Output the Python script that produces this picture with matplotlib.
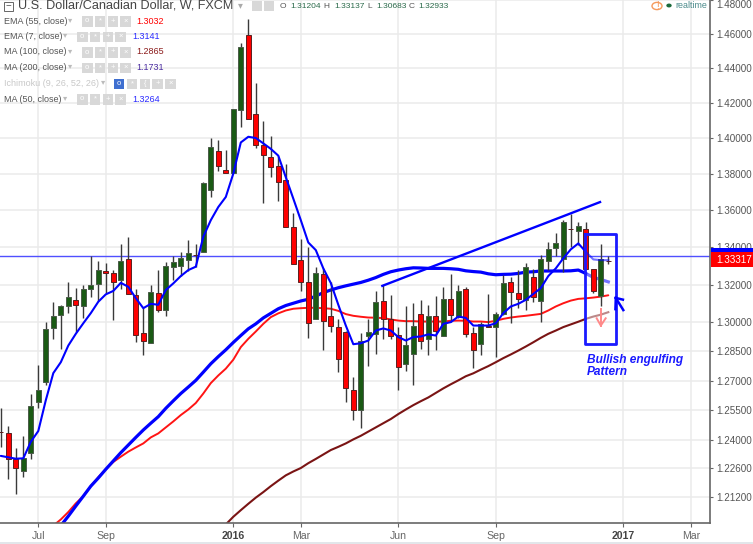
import numpy as np
from matplotlib import pyplot as plt
from matplotlib.patches import Rectangle, Circle
from matplotlib.ticker import NullLocator

plt.rcParams['font.family'] = ['Liberation Sans', 'DejaVu Sans']

# weekly candles, one row per week
opens = [1.2440, 1.2433, 1.2308, 1.2248, 1.2333, 1.2592, 1.2693, 1.2970, 1.3039, 1.3086, 1.3119, 1.3089,
         1.3176, 1.3204, 1.3270, 1.3261, 1.3223, 1.3334, 1.3145, 1.2946, 1.2894, 1.3154, 1.3068, 1.3295,
         1.3300, 1.3332, 1.3357, 1.3375, 1.3709, 1.3926, 1.3823, 1.3808, 1.4157, 1.4596, 1.4137, 1.3960,
         1.3893, 1.3847, 1.3764, 1.3510, 1.3329, 1.3216, 1.3016, 1.3254, 1.3034, 1.2978, 1.2950, 1.2651,
         1.2549, 1.2929, 1.2939, 1.3112, 1.3017, 1.2934, 1.2786, 1.2835, 1.3044, 1.2912, 1.3036, 1.2929,
         1.3122, 1.3028, 1.3176, 1.2944, 1.2887, 1.2984, 1.2976, 1.3046, 1.3214, 1.3154, 1.3119, 1.3238,
         1.3115, 1.3325, 1.3396, 1.3334, 1.3497, 1.3488, 1.3496, 1.3281, 1.3140, 1.3327]
highs = [1.2560, 1.2470, 1.2358, 1.2421, 1.2634, 1.2778, 1.3002, 1.3105, 1.3093, 1.3214, 1.3183, 1.3197,
         1.3353, 1.3327, 1.3313, 1.3277, 1.3418, 1.3455, 1.3174, 1.3075, 1.3197, 1.3277, 1.3318, 1.3352,
         1.3372, 1.3438, 1.3416, 1.3753, 1.4001, 1.3990, 1.3934, 1.4168, 1.4549, 1.4687, 1.4316, 1.4095,
         1.4010, 1.3902, 1.3856, 1.3585, 1.3443, 1.3402, 1.3295, 1.3288, 1.3214, 1.3016, 1.2953, 1.2718,
         1.2946, 1.3019, 1.3166, 1.3197, 1.3145, 1.2979, 1.3086, 1.3102, 1.3120, 1.3093, 1.3140, 1.3185,
         1.3255, 1.3197, 1.3188, 1.2979, 1.3005, 1.3148, 1.3057, 1.3250, 1.3241, 1.3277, 1.3313, 1.3281,
         1.3357, 1.3429, 1.3477, 1.3546, 1.3582, 1.3534, 1.3534, 1.3282, 1.3415, 1.3352]
lows = [1.2365, 1.2206, 1.2132, 1.2218, 1.2305, 1.2561, 1.2676, 1.2915, 1.2860, 1.3049, 1.2950, 1.3026,
        1.3136, 1.3113, 1.3154, 1.3014, 1.3174, 1.3150, 1.2897, 1.2829, 1.2894, 1.3056, 1.3035, 1.3223,
        1.3245, 1.3273, 1.3295, 1.3375, 1.3673, 1.3815, 1.3808, 1.3808, 1.4061, 1.4110, 1.3945, 1.3640,
        1.3782, 1.3651, 1.3507, 1.3309, 1.3166, 1.2920, 1.3016, 1.2858, 1.2950, 1.2743, 1.2592, 1.2500,
        1.2462, 1.2773, 1.2834, 1.2912, 1.2915, 1.2654, 1.2748, 1.2676, 1.2861, 1.2829, 1.2858, 1.2929,
        1.3002, 1.3024, 1.2923, 1.2764, 1.2829, 1.2979, 1.2820, 1.3040, 1.2998, 1.3075, 1.3068, 1.3110,
        1.3002, 1.3277, 1.3352, 1.3265, 1.3402, 1.3411, 1.3284, 1.3154, 1.3084, 1.3309]
closes = [1.2440, 1.2305, 1.2261, 1.2312, 1.2570, 1.2651, 1.2967, 1.3036, 1.3084, 1.3136, 1.3094, 1.3178,
          1.3195, 1.3277, 1.3259, 1.3214, 1.3325, 1.3150, 1.2934, 1.2906, 1.3162, 1.3068, 1.3298, 1.3318,
          1.3341, 1.3366, 1.3357, 1.3751, 1.3952, 1.3843, 1.3808, 1.4165, 1.4525, 1.4110, 1.3964, 1.3904,
          1.3837, 1.3758, 1.3510, 1.3309, 1.3211, 1.2996, 1.3259, 1.3006, 1.2981, 1.2812, 1.2661, 1.2549,
          1.2905, 1.2952, 1.3106, 1.3017, 1.2927, 1.2769, 1.2884, 1.2983, 1.2905, 1.3033, 1.2958, 1.3122,
          1.3039, 1.3164, 1.2940, 1.2858, 1.2993, 1.2979, 1.3044, 1.3206, 1.3162, 1.3122, 1.3291, 1.3133,
          1.3334, 1.3389, 1.3422, 1.3534, 1.3497, 1.3514, 1.3284, 1.3164, 1.3334, 1.3327]

ema7 = [1.2321, 1.2314, 1.2307, 1.2309, 1.2391, 1.2445, 1.2600, 1.2738, 1.2794, 1.2880, 1.2941, 1.2996,
        1.3049, 1.3109, 1.3148, 1.3166, 1.3209, 1.3188, 1.3128, 1.3075, 1.3098, 1.3093, 1.3171, 1.3206,
        1.3245, 1.3277, 1.3295, 1.3456, 1.3546, 1.3618, 1.3673, 1.3802, 1.3976, 1.4008, 1.4001, 1.3971,
        1.3940, 1.3902, 1.3782, 1.3664, 1.3546, 1.3425, 1.3384, 1.3286, 1.3208, 1.3093, 1.2984, 1.2887,
        1.2892, 1.2906, 1.2958, 1.2969, 1.2958, 1.2924, 1.2906, 1.2924, 1.2927, 1.2938, 1.2932, 1.2993,
        1.3002, 1.3031, 1.3024, 1.2984, 1.2984, 1.2984, 1.2996, 1.3049, 1.3084, 1.3098, 1.3119, 1.3150,
        1.3181, 1.3245, 1.3286, 1.3340, 1.3388, 1.3420, 1.3375, 1.3334, 1.3330, 1.3330]

# these start later than the candles, first value is week 8, 7 and 30
ma50_start = 8
ma50 = [1.1980, 1.2026, 1.2075, 1.2123, 1.2172, 1.2212, 1.2255, 1.2296, 1.2337, 1.2375, 1.2413, 1.2450,
        1.2484, 1.2517, 1.2559, 1.2597, 1.2634, 1.2667, 1.2701, 1.2743, 1.2786, 1.2823, 1.2858, 1.2896,
        1.2932, 1.2967, 1.2993, 1.3024, 1.3048, 1.3072, 1.3089, 1.3101, 1.3113, 1.3122, 1.3139, 1.3157,
        1.3171, 1.3183, 1.3193, 1.3202, 1.3211, 1.3223, 1.3237, 1.3254, 1.3268, 1.3277, 1.3284, 1.3289,
        1.3288, 1.3286, 1.3286, 1.3286, 1.3284, 1.3281, 1.3273, 1.3269, 1.3266, 1.3257, 1.3252, 1.3254,
        1.3255, 1.3259, 1.3266, 1.3268, 1.3272, 1.3272, 1.3272, 1.3272, 1.3273, 1.3277, 1.3259, 1.3238,
        1.3227, 1.3214]
ema55_start = 7
ema55 = [1.1980, 1.2010, 1.2046, 1.2088, 1.2123, 1.2172, 1.2216, 1.2255, 1.2291, 1.2317, 1.2342, 1.2363,
         1.2383, 1.2413, 1.2433, 1.2463, 1.2493, 1.2525, 1.2553, 1.2586, 1.2634, 1.2687, 1.2726, 1.2761,
         1.2807, 1.2872, 1.2915, 1.2953, 1.2993, 1.3028, 1.3048, 1.3063, 1.3072, 1.3075, 1.3077, 1.3077,
         1.3075, 1.3072, 1.3061, 1.3044, 1.3035, 1.3030, 1.3026, 1.3025, 1.3023, 1.3016, 1.3010, 1.3007,
         1.3007, 1.3005, 1.3005, 1.3005, 1.3005, 1.3009, 1.3010, 1.3009, 1.3005, 1.3005, 1.3002, 1.3009,
         1.3019, 1.3026, 1.3031, 1.3035, 1.3040, 1.3045, 1.3063, 1.3084, 1.3101, 1.3115, 1.3124, 1.3127,
         1.3131, 1.3136, 1.3143]
ma100_start = 30
ma100 = [1.1986, 1.2023, 1.2055, 1.2086, 1.2116, 1.2143, 1.2172, 1.2199, 1.2225, 1.2244, 1.2261, 1.2285,
         1.2306, 1.2328, 1.2350, 1.2366, 1.2383, 1.2403, 1.2421, 1.2442, 1.2463, 1.2484, 1.2505, 1.2530,
         1.2553, 1.2575, 1.2595, 1.2614, 1.2637, 1.2660, 1.2681, 1.2701, 1.2722, 1.2737, 1.2756, 1.2774,
         1.2794, 1.2815, 1.2834, 1.2854, 1.2875, 1.2897, 1.2920, 1.2941, 1.2958, 1.2976, 1.2990, 1.3004,
         1.3019, 1.3031, 1.3041, 1.3054]

price_ticks = [1.212, 1.226, 1.24, 1.255, 1.27, 1.285, 1.30, 1.32, 1.34, 1.36, 1.38, 1.40, 1.42, 1.44, 1.46, 1.48]
date_ticks = [5, 14, 31, 40, 53, 66, 83, 92]
date_labels = ['Jul', 'Sep', '2016', 'Mar', 'Jun', 'Sep', '2017', 'Mar']
last_price = 1.33317
last_line = 1.3353

legend_names = ['EMA (55, close)', 'EMA (7, close)', 'MA (100, close)', 'MA (200, close)',
                'Ichimoku (9, 26, 52, 26)', 'MA (50, close)']
legend_values = ['1.3032', '1.3141', '1.2865', '1.1731', '', '1.3264']
legend_colors = ['#ff0000', '#2a2aff', '#8b1a1a', '#4a2ca0', '#ffffff', '#2a2aff']
ohlc_names = ['O', 'H', 'L', 'C']
ohlc_values = ['1.31204', '1.33137', '1.30683', '1.32933']

W, H = 753, 544
BLUE = '#0000ff'
fig = plt.figure(figsize=(W / 100, H / 100), dpi=100)
ax = fig.add_axes([0, (H - 523) / H, 710 / W, 523 / H])
ax.set_yscale('log')
ax.set_xlim(-0.107, 94.56)
ax.set_ylim(1.1993, 1.4795)

ax.yaxis.set_minor_locator(NullLocator())
ax.yaxis.tick_right()
ax.set_yticks(price_ticks)
ax.set_yticklabels(['%.5f' % p for p in price_ticks], fontsize=7.1, color='#555555')
ax.set_xticks(date_ticks)
ax.set_xticklabels(date_labels, fontsize=7.6, color='#666666')
for lab, name in zip(ax.get_xticklabels(), date_labels):
    if name.startswith('20'):
        lab.set_fontweight('bold')
        lab.set_color('#444444')
ax.tick_params(axis='y', length=2.5, width=0.8, color='#666666', pad=1.8)
ax.tick_params(axis='x', length=3, width=0.8, color='#666666', pad=3)
# the 1.48 label sits on the top edge in the reference, keep it inside the picture
ax.get_yticklabels()[-1].set_va('top')
ax.grid(True, color='#ebebeb', linewidth=1.1)
ax.set_axisbelow(True)
for side in ['top', 'left']:
    ax.spines[side].set_visible(False)
for side in ['bottom', 'right']:
    ax.spines[side].set_color('#666666')
    ax.spines[side].set_linewidth(1.2)


def plot_ma(start, values, color, lw, fade=None, z=2):
    # the tail of some lines sits under the pale box overlay
    x = np.arange(start, start + len(values))
    if fade is None:
        ax.plot(x, values, color=color, lw=lw, zorder=z, solid_capstyle='round')
        return
    n = 78 - start + 1
    ax.plot(x[:n], values[:n], color=color, lw=lw, zorder=z, solid_capstyle='round')
    ax.plot(x[n - 1:], values[n - 1:], color=color, lw=lw, zorder=z, alpha=fade)


plot_ma(ema55_start, ema55, '#ff1414', 1.4)
plot_ma(ma100_start, ma100, '#7a1414', 1.5, fade=0.5)
plot_ma(ma50_start, ma50, BLUE, 2.3, fade=0.55)

ax.axhline(last_line, color='#5050ff', lw=1.0, zorder=2)

o = np.array(opens)
c = np.array(closes)
idx = np.arange(len(opens))
up = c > o
ax.vlines(idx, lows, highs, color='#3a3a3a', lw=1.0, zorder=3)
ax.bar(idx[up], (c - o)[up], bottom=o[up], width=0.68, color='#1a5a14', edgecolor='#4a5a48', lw=0.7, zorder=4)
ax.bar(idx[~up], (o - c)[~up], bottom=c[~up], width=0.68, color='#ff0000', edgecolor='#5a2020', lw=0.7, zorder=4)

plot_ma(0, ema7, BLUE, 1.5, fade=0.55, z=5)

# hand drawn trend line, box and arrows
ax.plot([50.87, 79.9], [1.3193, 1.3645], color=BLUE, lw=1.7, zorder=6)
ax.plot([77.95, 82.0, 82.0, 77.95, 77.95], [1.3469, 1.3469, 1.2889, 1.2889, 1.3469],
        color='#1a1aff', lw=2.0, zorder=6)
ax.plot([80.0, 80.0], [1.3071, 1.2984], color='#ff8a8a', lw=1.4, zorder=6)
ax.plot([79.45, 80.0, 80.65], [1.3022, 1.2984, 1.3022], color='#ff8a8a', lw=1.4, zorder=6)
ax.plot([82.0, 83.0], [1.3129, 1.3065], color=BLUE, lw=1.8, zorder=7, clip_on=False)
ax.plot([82.0, 81.95], [1.3129, 1.3070], color=BLUE, lw=1.8, zorder=7)
ax.plot([82.0, 82.95], [1.3129, 1.3120], color=BLUE, lw=1.8, zorder=7)
ax.text(78.15, 1.2775, 'Bullish engulfing\nPattern', color='#1a1aff', fontsize=8.6, fontweight='bold',
        fontstyle='italic', va='center', ha='left', linespacing=1.0, zorder=7)


def px_text(x, y, s, **kw):
    kw.setdefault('va', 'center')
    fig.text(x / W, 1 - y / H, s, **kw)


def px_rect(x, y, w, h, color, z=8):
    fig.patches.append(Rectangle((x / W, 1 - (y + h) / H), w / W, h / H, transform=fig.transFigure,
                                 facecolor=color, edgecolor='none', zorder=z))


# price label on the right scale
px_rect(711, 248, 42, 4, '#0000ff')
px_rect(711, 252, 42, 15, '#ff0000')
px_text(716.5, 260, '%.5f' % last_price, color='white', fontsize=7.1, zorder=9)
px_rect(0, 542, W, 2, '#e2e6ea')

# header
fig.patches.append(Rectangle((3.5 / W, 1 - 11 / H), 9 / W, 9 / H, transform=fig.transFigure,
                             facecolor='white', edgecolor='#666666', lw=0.7, zorder=8))
px_text(5.5, 6.5, '\u2212', color='#555555', fontsize=7, zorder=9)
px_text(17.5, 6, 'U.S. Dollar/Canadian Dollar, W, FXCM', color='#444444', fontsize=9.1, zorder=9)
px_text(238, 5.5, '\u25be', color='#aaaaaa', fontsize=7, zorder=9)
px_rect(252, 1, 10, 10, '#d8d8d8')
px_rect(264, 1, 10, 10, '#d8d8d8')
for nx, vx, name, val in zip([280, 323, 367, 409], [290, 334, 376, 418], ohlc_names, ohlc_values):
    px_text(nx, 6, name, color='#555555', fontsize=6.0, zorder=9)
    px_text(vx, 6, val, color='#2a6a4a', fontsize=6.0, zorder=9)
fig.patches.append(Circle((657 / W, 1 - 6 / H), 5 / W, transform=fig.transFigure, facecolor='white',
                          edgecolor='#f59a5c', lw=1.0, zorder=8))
px_text(657, 6, '!', color='#f59a5c', fontsize=7, ha='center', zorder=9)
fig.patches.append(Circle((669 / W, 1 - 5.5 / H), 2.7 / W, transform=fig.transFigure, facecolor='#1a6a3a',
                          edgecolor='none', zorder=8))
px_text(675.5, 5.5, 'realtime', color='#4a8a8a', fontsize=6.4, zorder=9)

# study legend rows
rows_y = [21, 36.5, 52, 67.5, 83.5, 99]
chevron_x = [68, 63, 68, 68, 101, 63]
icon_x = [82, 77, 82, 82, 114, 77]
value_x = [136, 132, 136, 136, 0, 132]
for k in range(len(legend_names)):
    y = rows_y[k]
    pale = legend_names[k].startswith('Ichimoku')
    px_text(3.5, y, legend_names[k], color='#c8c8c8' if pale else '#555555', fontsize=6.5, zorder=9)
    px_text(chevron_x[k], y - 0.5, '\u25be', color='#bbbbbb', fontsize=6, zorder=9)
    n_icons = 5 if pale else 4
    for j in range(n_icons):
        ix = icon_x[k] + j * 12.8
        px_rect(ix, y - 5, 10.5, 10.5, '#3f6fd0' if pale and j == 0 else '#d8d8d8')
        px_text(ix + 5.2, y, 'o*+\u00d7'[min(j, 3)] if not pale else 'o*{+\u00d7'[j], color='white',
                fontsize=5.5, ha='center', zorder=9)
    if legend_values[k]:
        px_text(value_x[k], y, legend_values[k], color=legend_colors[k], fontsize=6.5, zorder=9)

fig.savefig('out.png', dpi=100, facecolor='white')
